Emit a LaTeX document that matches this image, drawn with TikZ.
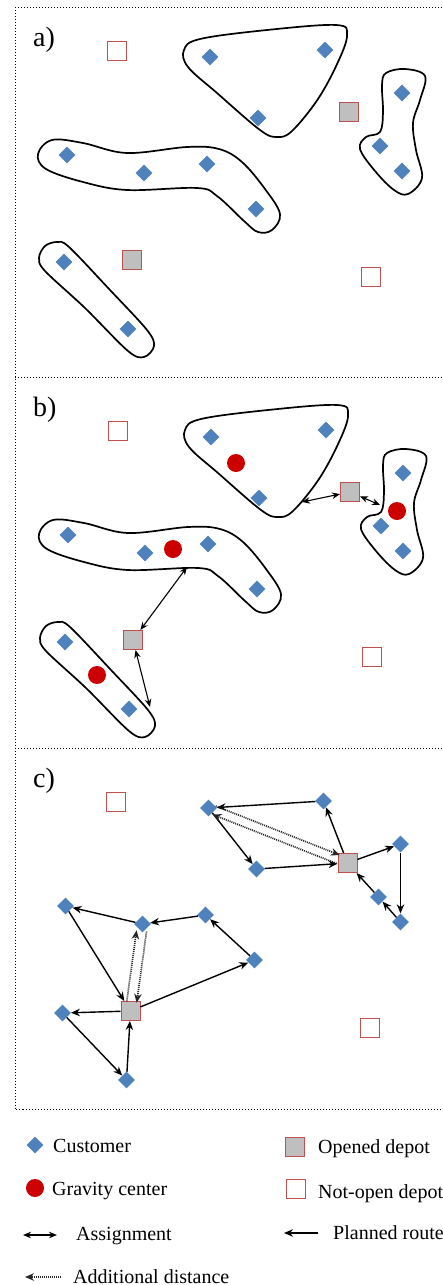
\documentclass[tikz,border=0pt]{standalone}
\usepackage{fontspec}
\setmainfont{Liberation Serif}
\usetikzlibrary{shapes.geometric,arrows.meta,calc}
\definecolor{custblue}{HTML}{4F81BD}
\definecolor{depred}{HTML}{C0504D}
\definecolor{depgray}{HTML}{BFBFBF}
\definecolor{gravred}{HTML}{CC0000}
\tikzset{
 cust/.style={diamond,aspect=1,fill=custblue,inner sep=0pt,minimum size=17pt},
 opened/.style={rectangle,draw=depred,fill=depgray,line width=1pt,minimum size=19pt,inner sep=0pt},
 notopen/.style={rectangle,draw=depred,fill=white,line width=1pt,minimum size=19pt,inner sep=0pt},
 grav/.style={circle,fill=gravred,minimum size=18pt,inner sep=0pt},
 cluster/.style={draw=black,line width=1.7pt},
 assign/.style={{Stealth[length=8pt,width=6.5pt]}-{Stealth[length=8pt,width=6.5pt]},line width=1.1pt},
 route/.style={-{Stealth[length=9pt,width=7.5pt]},line width=1.4pt},
 extra/.style={-{Stealth[length=9pt,width=7.5pt]},line width=1.7pt,dash pattern=on 1pt off 1pt,black!85},
 border/.style={line width=1pt,dotted},
 lbl/.style={font=\fontsize{28}{30}\selectfont,anchor=base west,inner sep=0pt},
 leg/.style={font=\fontsize{20}{22}\selectfont,anchor=base west,inner sep=0pt},
}
\newcommand{\clusterdraw}{%
 \draw[cluster] plot[smooth cycle,tension=0.6] coordinates {(184,50) (200,39) (267,30) (336,25) (347,35) (338,62) (318,99) (292,131) (277,137) (260,130) (217,93) (188,67)};
 \draw[cluster] plot[smooth cycle,tension=0.6] coordinates {(386,73) (405,69) (425,76) (420,100) (413,123) (416,150) (422,178) (408,194) (394,190) (375,171) (360,149) (366,137) (380,132) (383,112) (382,85)};
 \draw[cluster] plot[smooth cycle,tension=0.6] coordinates {(38,154) (52,140) (83,143) (127,153) (187,147) (219,149) (242,162) (265,189) (280,214) (272,230) (258,232) (244,221) (217,196) (197,188) (127,190) (83,182) (46,169)};
 \draw[cluster] plot[smooth cycle,tension=0.55] coordinates {(39,258) (45,246) (57,242) (69,247) (110,290) (147,330) (154,346) (144,357) (128,351) (85,308) (45,271)};
}
\newcommand{\sitesdraw}{%
 \node[notopen] (n1) at (117,51) {};
 \node[opened] (o1) at (349,112) {};
 \node[opened] (o2) at (132,260) {};
 \node[notopen] (n2) at (371,277) {};
 \node[cust] (c1) at (210,57) {};
 \node[cust] (c2) at (325,50) {};
 \node[cust] (c3) at (258,118) {};
 \node[cust] (c4) at (402,93) {};
 \node[cust] (c5) at (380,146) {};
 \node[cust] (c6) at (402,171) {};
 \node[cust] (c7) at (67,155) {};
 \node[cust] (c8) at (144,173) {};
 \node[cust] (c9) at (207,164) {};
 \node[cust] (c10) at (256,209) {};
 \node[cust] (c11) at (64,262) {};
 \node[cust] (c12) at (128,329) {};
}
\begin{document}
\begin{tikzpicture}[x=1pt,y=-1pt]
\useasboundingbox (0,0) rectangle (442,1285);
% borders
\draw[border] (442,7.5) -- (15,7.5) -- (15,1109) -- (442,1109);
\draw[border] (15,377.5) -- (442,377.5);
\draw[border] (15,748) -- (442,748);
% panel a
\node[lbl] (la) at (33,46) {a)};
\begin{scope}[name prefix=a-]
\clusterdraw
\sitesdraw
\end{scope}
% panel b
\node[lbl] (lb) at (33,416) {b)};
\begin{scope}[shift={(1,380)},name prefix=b-]
\clusterdraw
\sitesdraw
\node[grav] (g1) at (235,83) {};
\node[grav] (g2) at (396,131) {};
\node[grav] (g3) at (172,169) {};
\node[grav] (g4) at (96,295) {};
\coordinate (t1) at (301,122);
\coordinate (t2) at (379,125);
\coordinate (t3) at (186,187);
\coordinate (t4) at (149,327);
\end{scope}
\draw[assign] (b-t1) -- (b-o1);
\draw[assign] (b-o1) -- (b-t2);
\draw[assign] (b-t3) -- (b-o2);
\draw[assign] (b-o2) -- (b-t4);
% panel c
\node[lbl] (lc) at (33,787) {c)};
\begin{scope}[shift={(-1.5,751)},name prefix=c-]
\sitesdraw
\end{scope}
\draw[route] (c-o1) -- (c-c2);
\draw[route] (c-c2) -- (c-c1);
\draw[route] (c-c1) -- (c-c3);
\draw[route] (c-c3) -- (c-o1);
\draw[route] (c-o1) -- (c-c4);
\draw[route] (c-c4) -- (c-c6);
\draw[route] (c-c6) -- (c-c5);
\draw[route] (c-c5) -- (c-o1);
\draw[route] (c-c8) -- (c-c7);
\draw[route] (c-c7) -- (c-o2);
\draw[route] (c-o2) -- (c-c11);
\draw[route] (c-c11) -- (c-c12);
\draw[route] (c-c12) -- (c-o2);
\draw[route] (c-o2) -- (c-c10);
\draw[route] (c-c10) -- (c-c9);
\draw[route] (c-c9) -- (c-c8);
\draw[extra,shorten <=6pt,shorten >=10pt] ($(c-c1)!4.5pt!90:(c-o1)$) -- ($(c-o1)!4.5pt!-90:(c-c1)$);
\draw[extra,shorten <=10pt,shorten >=6pt] ($(c-o1)!4.5pt!90:(c-c1)$) -- ($(c-c1)!4.5pt!-90:(c-o1)$);
\draw[extra,shorten <=7pt,shorten >=9pt] ($(c-c8)!5pt!90:(c-o2)$) -- ($(c-o2)!5pt!-90:(c-c8)$);
\draw[extra,shorten <=9pt,shorten >=7pt] ($(c-o2)!5pt!90:(c-c8)$) -- ($(c-c8)!5pt!-90:(c-o2)$);
% legend
\node[cust] (lcu) at (35,1145) {};
\node[leg] (lcut) at (53,1152) {Customer};
\node[grav] (lgr) at (35,1188) {};
\node[leg] (lgrt) at (52,1195) {Gravity center};
\coordinate (la1) at (23,1235);
\coordinate (la2) at (57,1235);
\draw[assign,line width=1.5pt] (la1) -- (la2);
\node[leg] (lat) at (76,1240) {Assignment};
\coordinate (ld1) at (61,1277);
\coordinate (ld2) at (25,1277);
\draw[extra,line width=1.3pt] (ld1) -- (ld2);
\node[leg] (ldt) at (73,1283) {Additional distance};
\node[opened] (lop) at (295,1147) {};
\node[leg] (lopt) at (318,1153) {Opened depot};
\node[notopen] (lno) at (296,1189) {};
\node[leg] (lnot) at (318,1198) {Not-open depot};
\coordinate (lr1) at (318,1233);
\coordinate (lr2) at (284,1233);
\draw[route,line width=1.5pt] (lr1) -- (lr2);
\node[leg] (lrt) at (333,1239) {Planned route};
\end{tikzpicture}
\end{document}
